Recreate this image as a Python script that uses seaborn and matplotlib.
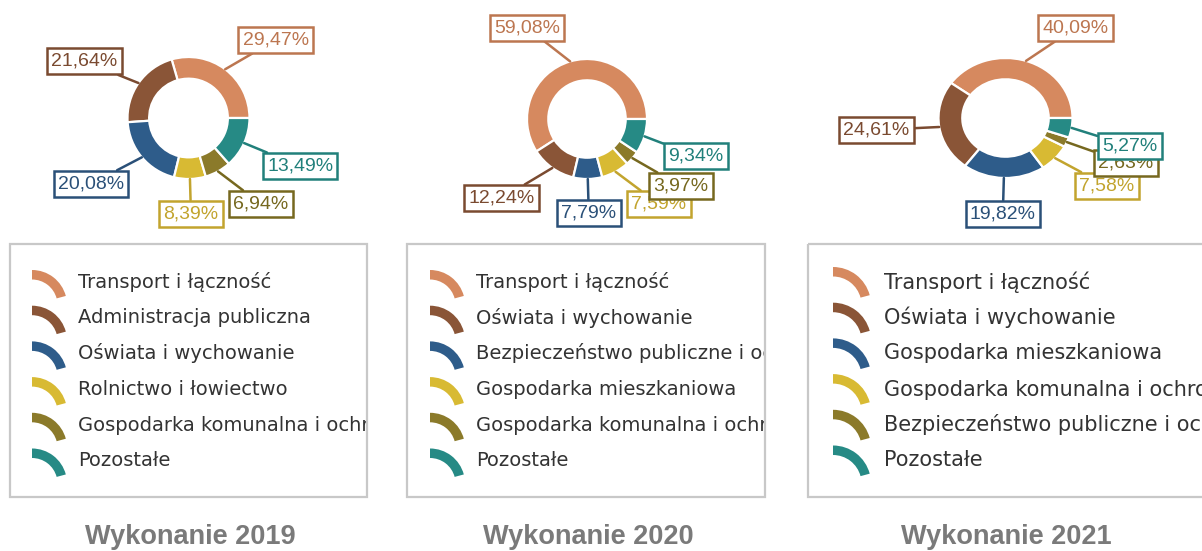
import matplotlib
matplotlib.use("Agg")
import matplotlib.pyplot as plt
from matplotlib.patches import Rectangle, Wedge
import numpy as np
import seaborn as sns

# ---- data -------------------------------------------------------------
years = ["2019", "2020", "2021"]

categories_2019 = ["Transport i łączność", "Administracja publiczna",
                   "Oświata i wychowanie", "Rolnictwo i łowiectwo",
                   "Gospodarka komunalna i ochrona środowiska", "Pozostałe"]
shares_2019 = [29.47, 21.64, 20.08, 8.39, 6.94, 13.49]

categories_2020 = ["Transport i łączność", "Oświata i wychowanie",
                   "Bezpieczeństwo publiczne i ochrona przeciwpożarowa",
                   "Gospodarka mieszkaniowa",
                   "Gospodarka komunalna i ochrona środowiska", "Pozostałe"]
shares_2020 = [59.08, 12.24, 7.79, 7.59, 3.97, 9.34]

categories_2021 = ["Transport i łączność", "Oświata i wychowanie",
                   "Gospodarka mieszkaniowa",
                   "Gospodarka komunalna i ochrona środowiska",
                   "Bezpieczeństwo publiczne i ochrona przeciwpożarowa",
                   "Pozostałe"]
shares_2021 = [40.09, 24.61, 19.82, 7.58, 2.63, 5.27]

title_prefix = "Wykonanie"

# ---- style ------------------------------------------------------------
sns.set_theme(style="white")
plt.rcParams["font.family"] = ["DejaVu Sans"]

wedge_colors = sns.color_palette(["#D6895F", "#8A5537", "#2E5C8A",
                                  "#D8BA33", "#8B7A2A", "#268A85"])
label_colors = sns.color_palette(["#BC7650", "#7A4A30", "#2A5078",
                                  "#C2A42E", "#76681F", "#21807B"])

W, H = 1202, 551
fig = plt.figure(figsize=(W / 100, H / 100), dpi=100)

# overlay in pixel units for legends and titles
bg = fig.add_axes([0, 0, 1, 1])
bg.set_xlim(0, W)
bg.set_ylim(H, 0)
bg.axis("off")

# per-panel layout: donut centre / radii (px), legend box, title position
panels = [
    dict(cx=188.5, cy=118, rx=61, ry=61,
         labels_at=[(1.43, 1.28), (-1.71, 0.93), (-1.60, -1.08),
                    (0.04, -1.57), (1.19, -1.41), (1.83, -0.79)],
         box=(10, 244, 357, 253), mark_x=34, text_x=78, mark_r=35,
         title_x=190, legend_fs=14),
    dict(cx=587, cy=119, rx=60, ry=60,
         labels_at=[(-1.00, 1.52), (-1.42, -1.32), (0.03, -1.57),
                    (1.20, -1.42), (1.57, -1.12), (1.82, -0.62)],
         box=(407, 244, 358, 253), mark_x=432, text_x=476, mark_r=35,
         title_x=588, legend_fs=14),
    dict(cx=1005.5, cy=118, rx=67, ry=60,
         labels_at=[(1.04, 1.50), (-1.93, -0.20), (-0.04, -1.60),
                    (1.51, -1.13), (1.80, -0.75), (1.86, -0.47)],
         box=(808, 244, 420, 253), mark_x=835, text_x=884, mark_r=38,
         title_x=1006, legend_fs=15),
]

all_shares = [shares_2019, shares_2020, shares_2021]
all_categories = [categories_2019, categories_2020, categories_2021]


def fmt(v):
    return f"{v:.2f}".replace(".", ",") + "%"


for year, shares, cats, p in zip(years, all_shares, all_categories, panels):
    # donut axes, sized so that radius 1 equals rx / ry pixels
    aw, ah = 5.0 * p["rx"], 5.0 * p["ry"]
    rect = [(p["cx"] - aw / 2) / W, 1 - (p["cy"] + ah / 2) / H, aw / W, ah / H]
    ax = fig.add_axes(rect)
    wedges, _ = ax.pie(shares, colors=wedge_colors, startangle=0,
                       counterclock=True, radius=1.0,
                       wedgeprops=dict(width=0.355, edgecolor="white",
                                       linewidth=1.6))
    ax.set_aspect("auto")
    ax.set_xlim(-2.5, 2.5)
    ax.set_ylim(-2.5, 2.5)
    ax.axis("off")

    for w, v, lc, pos in zip(wedges, shares, label_colors, p["labels_at"]):
        ang = np.deg2rad((w.theta1 + w.theta2) / 2)
        xy = (np.cos(ang), np.sin(ang))
        ax.annotate(fmt(v), xy=xy, xytext=pos, ha="center", va="center",
                    fontsize=14, color=lc, family="Liberation Sans",
                    bbox=dict(boxstyle="square,pad=0.22", fc="white",
                              ec=lc, lw=1.8),
                    arrowprops=dict(arrowstyle="-", color=lc, lw=1.8,
                                    shrinkA=0, shrinkB=0),
                    annotation_clip=False)

    # legend box with arc markers; long names are cut at the frame
    bx, by, bw, bh = p["box"]
    frame = Rectangle((bx, by), bw, bh, fill=False, ec="#C8C8C8", lw=1.6)
    bg.add_patch(frame)
    clip = Rectangle((bx, by), bw - 1.5, bh, fill=False, lw=0,
                     transform=bg.transData)
    for i, (name, col) in enumerate(zip(cats, wedge_colors)):
        row_y = 282 + i * 35.7
        r = p["mark_r"]
        arc = Wedge((p["mark_x"] - 2, row_y + 23), r, 270, 345, width=9.5,
                    color=col, lw=0)
        bg.add_patch(arc)
        t = bg.text(p["text_x"], row_y, name, fontsize=p["legend_fs"],
                    color="#333333", ha="left", va="center", clip_on=True)
        t.set_clip_path(clip)

    bg.text(p["title_x"], 537, f"{title_prefix} {year}", fontsize=19.5,
            fontweight="bold", color="#7A7A7A", family="Liberation Sans",
            ha="center", va="center")

fig.savefig("out.png", dpi=100, facecolor="white")
